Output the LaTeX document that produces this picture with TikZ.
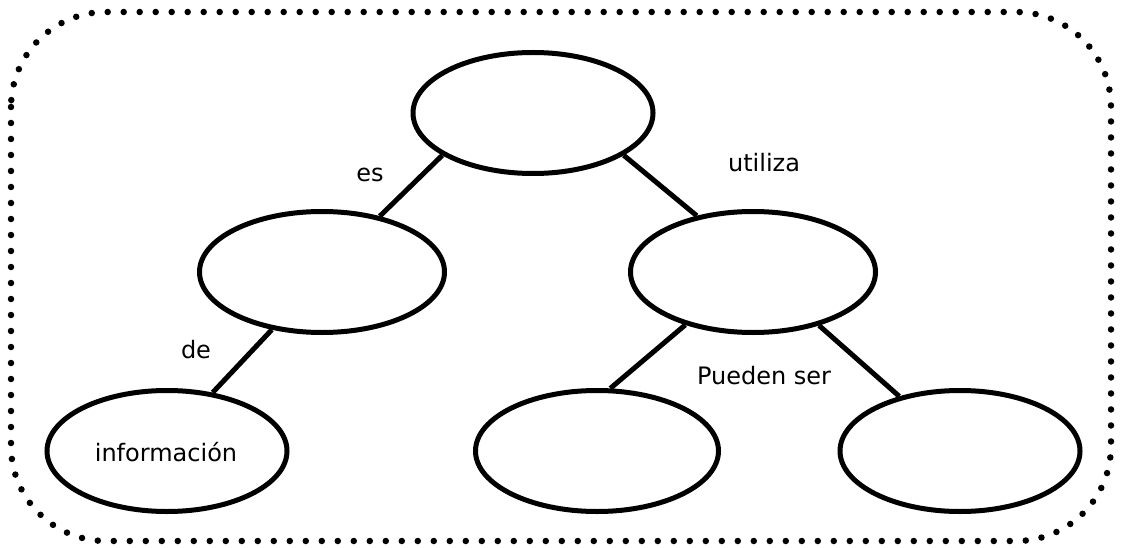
\documentclass[tikz,border=0pt]{standalone}
\usepackage{fontspec}
\setmainfont{DejaVu Sans}
\usetikzlibrary{shapes.geometric}
\begin{document}
\begin{tikzpicture}[x=1pt,y=-1pt,
  concept/.style={draw, ellipse, line width=5pt, inner sep=0pt, minimum width=240pt, minimum height=121pt},
  link/.style={line width=5pt},
  lbl/.style={font=\fontsize{24}{27}\selectfont, inner sep=0pt}]
\useasboundingbox (0,0) rectangle (1121,548);
\draw[line width=6.5pt, line cap=round, dash pattern=on 0pt off 16pt, rounded corners=95pt]
  (11,12) rectangle (1111,541);
\node[concept] (T) at (533,113) {};
\node[concept, minimum width=245pt] (L) at (322,272) {};
\node[concept, minimum width=245pt] (R) at (753,272) {};
\node[concept] (B1) at (167,451) {};
\node[concept, minimum width=243pt] (B2) at (597,451) {};
\node[concept] (B3) at (960,451) {};
\node[lbl] (info) at (166,452) {información};
\draw[link] (T.205) -- (L.44);
\draw[link] (T.335) -- (R.135.5);
\draw[link] (L.229.5) -- (B1.52.7);
\draw[link] (R.218) -- (B2.78.5);
\draw[link] (R.321) -- (B3.138);
\node[lbl] (es) at (370,175) {es};
\node[lbl] (utiliza) at (764,163) {utiliza};
\node[lbl] (de) at (196,350) {de};
\node[lbl] (pueden) at (764,376) {Pueden ser};
\end{tikzpicture}
\end{document}
